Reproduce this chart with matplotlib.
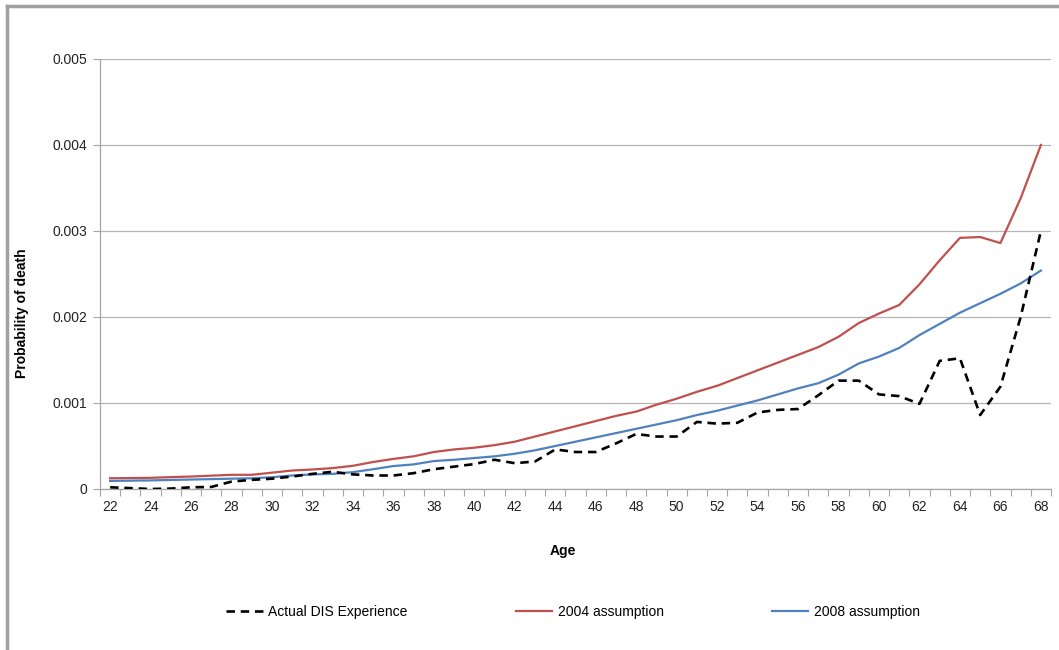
import matplotlib
matplotlib.use("Agg")
import matplotlib.pyplot as plt
from matplotlib.lines import Line2D
from matplotlib.ticker import FixedLocator, NullFormatter

plt.rcParams['font.family'] = ['Liberation Sans', 'DejaVu Sans']

ages = list(range(22, 69))

actual_dis = [0.00002, 0.00001, 0.0, 0.000005, 0.00002, 0.000024, 0.000086, 0.000106,
              0.00012, 0.000145, 0.000176, 0.0002, 0.00017, 0.000157, 0.000157, 0.000184,
              0.00023, 0.00026, 0.00029, 0.00034, 0.0003, 0.00032, 0.00046, 0.00043,
              0.00043, 0.00053, 0.00064, 0.00061, 0.00061, 0.00078, 0.00076, 0.00077,
              0.00089, 0.00092, 0.00093, 0.00109, 0.00126, 0.00126, 0.0011, 0.00108,
              0.00099, 0.00149, 0.00152, 0.00086, 0.00119, 0.002, 0.003]

assump_2004 = [0.000125, 0.000127, 0.00013, 0.000138, 0.000145, 0.000155, 0.000165, 0.000165,
               0.00019, 0.000215, 0.000227, 0.000243, 0.00027, 0.000314, 0.00035, 0.00038,
               0.00043, 0.00046, 0.00048, 0.00051, 0.00055, 0.00061, 0.00067, 0.00073,
               0.00079, 0.00085, 0.0009, 0.00098, 0.00105, 0.00113, 0.0012, 0.00129,
               0.00138, 0.00147, 0.00156, 0.00165, 0.00177, 0.00193, 0.00204, 0.00214,
               0.00238, 0.00266, 0.00292, 0.00293, 0.00286, 0.00338, 0.004]

assump_2008 = [0.000094, 0.000097, 0.0001, 0.000105, 0.00011, 0.000115, 0.00012, 0.000125,
               0.000137, 0.000157, 0.00017, 0.000176, 0.000196, 0.00023, 0.000267, 0.000286,
               0.000325, 0.00034, 0.00036, 0.00038, 0.00041, 0.00045, 0.0005, 0.00055,
               0.0006, 0.00065, 0.0007, 0.00075, 0.0008, 0.00086, 0.00091, 0.00097,
               0.00103, 0.0011, 0.00117, 0.00123, 0.00133, 0.00146, 0.00154, 0.00164,
               0.00179, 0.00192, 0.00205, 0.00216, 0.00227, 0.00239, 0.00254]

y_ticks = [0, 0.001, 0.002, 0.003, 0.004, 0.005]
y_tick_labels = ['0', '0.001', '0.002', '0.003', '0.004', '0.005']
x_tick_labels = [str(a) for a in range(22, 69, 2)]

W, H = 1059, 650
fig = plt.figure(figsize=(W / 100, H / 100), dpi=100)
fig.patch.set_facecolor('white')

ax = fig.add_axes([100 / W, 1 - 489 / H, (1051 - 100) / W, (489 - 59) / H])

red = '#C0504D'
blue = '#4F81BD'
ax.plot(ages, actual_dis, color='black', lw=1.9, dashes=(3.2, 2.2), zorder=4)
ax.plot(ages, assump_2004, color=red, lw=1.6, zorder=3)
ax.plot(ages, assump_2008, color=blue, lw=1.6, zorder=3)

ax.set_xlim(21.5, 68.5)
ax.set_ylim(0, 0.005)
ax.set_yticks(y_ticks)
ax.set_yticklabels(y_tick_labels)
ax.set_xticks(list(range(22, 69, 2)))
ax.set_xticklabels(x_tick_labels)
ax.xaxis.set_minor_locator(FixedLocator([a + 0.5 for a in range(21, 69)]))
ax.xaxis.set_minor_formatter(NullFormatter())
ax.tick_params(axis='x', which='major', length=0, pad=8, labelsize=10, colors='#222222')
ax.tick_params(axis='x', which='minor', length=5, color='#a6a6a6', width=0.8)
ax.tick_params(axis='y', length=5, color='#a6a6a6', width=0.8, pad=4, labelsize=10)
ax.tick_params(axis='y', colors='#a6a6a6', labelcolor='#222222')

ax.grid(axis='y', color='#b5b5b5', lw=0.9)
ax.set_axisbelow(True)
for s in ['top', 'right']:
    ax.spines[s].set_visible(False)
for s in ['left', 'bottom']:
    ax.spines[s].set_color('#a6a6a6')
    ax.spines[s].set_linewidth(0.9)

fig.text(563 / W, 1 - 551 / H, 'Age', ha='center', va='center', fontsize=10, fontweight='bold')
fig.text(22 / W, 1 - 313 / H, 'Probability of death', ha='center', va='center',
         rotation=90, fontsize=10, fontweight='bold')

handles = [Line2D([], [], color='black', lw=1.9, dashes=(3.2, 2.2)),
           Line2D([], [], color=red, lw=1.6),
           Line2D([], [], color=blue, lw=1.6)]
labels = ['Actual DIS Experience', '2004 assumption', '2008 assumption']
fig.legend(handles, labels, loc='center', bbox_to_anchor=(573 / W, 1 - 612 / H), ncol=3,
           frameon=False, fontsize=10, handlelength=2.6, handletextpad=0.4,
           columnspacing=7.8)

# outer frame (screenshot border)
fig.add_artist(Line2D([7 / W, 7 / W], [0, 1 - 6 / H], color='#a0a0a0', lw=2.5,
                      transform=fig.transFigure))
fig.add_artist(Line2D([7 / W, 1], [1 - 6 / H, 1 - 6 / H], color='#a0a0a0', lw=2.5,
                      transform=fig.transFigure))

fig.savefig('out.png', dpi=100, facecolor='white')
